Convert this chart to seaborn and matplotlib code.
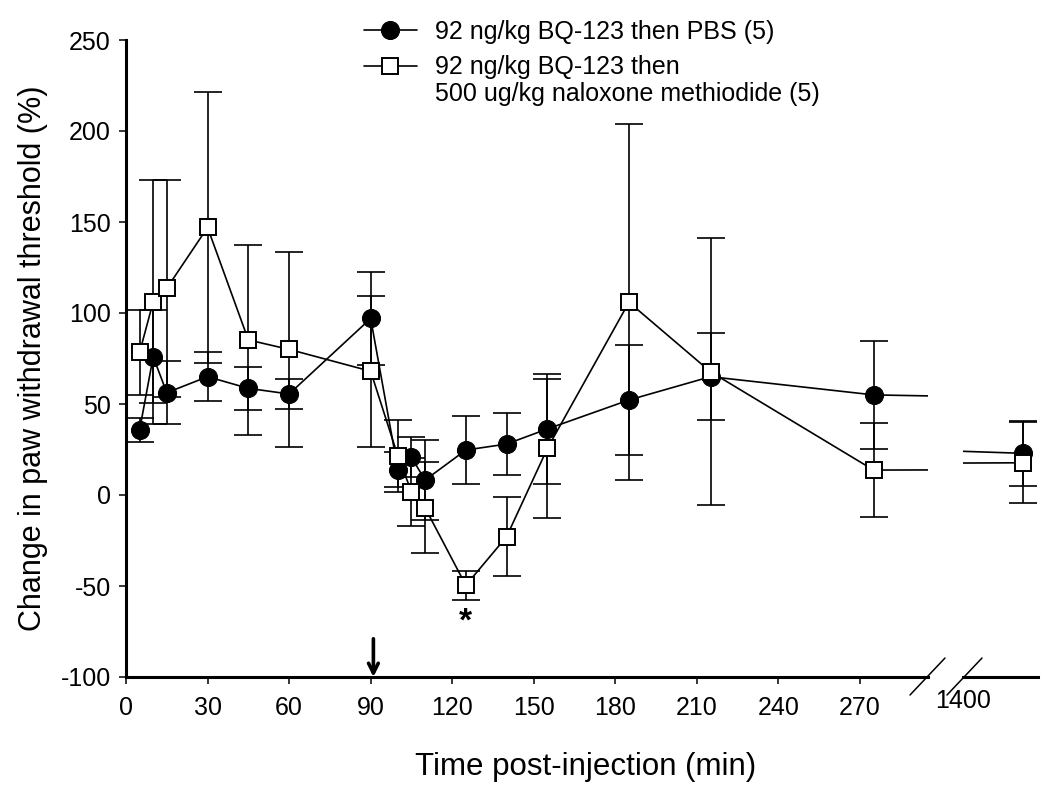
import numpy as np
import pandas as pd
import matplotlib
matplotlib.use("Agg")
import matplotlib.pyplot as plt
from matplotlib.lines import Line2D
import seaborn as sns

# ---------------- data ----------------
times = [5, 10, 15, 30, 45, 60, 90, 100, 105, 110, 125, 140, 155, 185, 215, 275, 1440]
pbs_mean = [35.7, 76.0, 56.2, 65.0, 58.6, 55.5, 97.0, 14.0, 20.7, 8.2, 24.7, 28.0, 36.3, 52.2, 65.0, 55.0, 22.9]
pbs_sem = [6.7, 25.6, 17.4, 13.4, 12.0, 8.3, 25.7, 9.5, 11.0, 22.0, 18.5, 17.0, 30.0, 30.2, 24.0, 29.5, 18.0]
nlx_mean = [78.3, 106.2, 113.6, 147.0, 85.2, 80.0, 68.0, 21.4, 1.8, -7.0, -49.6, -22.9, 25.6, 105.9, 67.7, 13.7, 17.7]
nlx_sem = [23.3, 67.0, 59.5, 74.6, 52.0, 53.6, 41.5, 19.8, 18.6, 25.0, 8.0, 21.6, 38.4, 97.7, 73.3, 25.6, 22.3]

series_labels = ["92 ng/kg BQ-123 then PBS (5)", "92 ng/kg BQ-123 then"]
legend_continuation = "500 ug/kg naloxone methiodide (5)"
x_ticks_left = [0, 30, 60, 90, 120, 150, 180, 210, 240, 270]
x_ticks_right = [1400]
y_ticks = [-100, -50, 0, 50, 100, 150, 200, 250]
xlabel = "Time post-injection (min)"
ylabel = "Change in paw withdrawal threshold (%)"
arrow_time = 91
star_time, star_value = 125, -70

df = pd.DataFrame({"time": times, "pbs": pbs_mean, "pbs_sem": pbs_sem,
                   "nlx": nlx_mean, "nlx_sem": nlx_sem})

# ---------------- style ----------------
sns.set_style("ticks")
plt.rcParams['font.family'] = ['Liberation Sans', 'DejaVu Sans']
plt.rcParams['axes.unicode_minus'] = False
for k in ["text.color", "axes.labelcolor", "xtick.color", "ytick.color", "axes.edgecolor"]:
    plt.rcParams[k] = "black"

W, H = 1050, 791
fig = plt.figure(figsize=(W / 100, H / 100), dpi=100)
bottom = 1 - 677 / H
height = (677 - 40) / H
ax1 = fig.add_axes([126 / W, bottom, (928 - 126) / W, height])
ax2 = fig.add_axes([963 / W, bottom, (1038 - 963) / W, height], sharey=ax1)

spine_lw = 2.2
line_lw = 1.2
tick_fs = 18

for i, ax in enumerate([ax1, ax2]):
    ax.errorbar(df["time"], df["pbs"], yerr=df["pbs_sem"], fmt="none",
                ecolor="black", elinewidth=line_lw, capsize=10, capthick=line_lw, zorder=2)
    ax.errorbar(df["time"], df["nlx"], yerr=df["nlx_sem"], fmt="none",
                ecolor="black", elinewidth=line_lw, capsize=10, capthick=line_lw, zorder=2)
    sns.lineplot(data=df, x="time", y="pbs", ax=ax, color="black", marker="o",
                 markersize=13, markerfacecolor="black", markeredgecolor="black",
                 linewidth=line_lw, zorder=3,
                 label=series_labels[0] if i == 0 else None, legend=False)
    sns.lineplot(data=df, x="time", y="nlx", ax=ax, color="black", marker="s",
                 markersize=11, markerfacecolor="white", markeredgecolor="black",
                 markeredgewidth=1.4, linewidth=line_lw, zorder=4,
                 label=series_labels[1] if i == 0 else None, legend=False)
    ax.set_xlabel("")
    ax.set_ylabel("")
    for s in ["top", "right"]:
        ax.spines[s].set_visible(False)
    ax.spines["bottom"].set_linewidth(spine_lw)
    ax.spines["left"].set_linewidth(spine_lw)
    ax.tick_params(direction="out", length=5, width=1.1, labelsize=tick_fs, pad=6,
                   colors="black")
    ax.tick_params(axis="x", pad=9)

ax1.set_xlim(0, 295)
ax1.set_ylim(-100, 250)
ax1.set_xticks(x_ticks_left)
ax1.set_yticks(y_ticks)
ax1.set_yticklabels([str(v) for v in y_ticks])
ax1.set_xticklabels([str(v) for v in x_ticks_left])

ax2.set_xlim(1400, 1450.3)
ax2.set_xticks(x_ticks_right)
ax2.set_xticklabels([str(v) for v in x_ticks_right])
ax2.spines["left"].set_visible(False)
ax2.tick_params(axis="y", left=False, labelleft=False)
ax2.tick_params(axis="x", length=0)
ax2.patch.set_alpha(0)
ax1.patch.set_alpha(0)

ax1.set_ylabel(ylabel, fontsize=22, labelpad=9)
fig.text(586 / W, 1 - 767 / H, xlabel, ha="center", va="center", fontsize=22.5)

# break marks
for x0, x1 in [(910, 945), (947, 982)]:
    fig.add_artist(Line2D([x0 / W, x1 / W], [1 - 695 / H, 1 - 658 / H],
                          transform=fig.transFigure, color="black", lw=1.1))

# arrow marking injection
ax1.annotate("", xy=(arrow_time, -100), xytext=(arrow_time, -79),
             arrowprops=dict(arrowstyle="->, head_length=0.7, head_width=0.35",
                             lw=2.6, color="black", shrinkA=0, shrinkB=0),
             annotation_clip=False, zorder=6)

# significance marker
ax1.text(star_time, star_value, "*", ha="center", va="center", fontsize=24,
         fontweight="bold", color="black")

# legend
handles, labels = ax1.get_legend_handles_labels()
leg = fig.legend(handles, labels, loc="upper left", bbox_to_anchor=(364 / W, 1 - 20 / H),
                 frameon=False, fontsize=18, handlelength=2.1, handletextpad=0.75,
                 labelspacing=0.45, borderpad=0, borderaxespad=0)
fig.canvas.draw()
renderer = fig.canvas.get_renderer()
bb = leg.get_texts()[1].get_window_extent(renderer)
fig.text(bb.x0 / W, (bb.y0 - 27) / H, legend_continuation, fontsize=18,
         ha="left", va="bottom", transform=fig.transFigure)

fig.savefig("out.png", dpi=100)
